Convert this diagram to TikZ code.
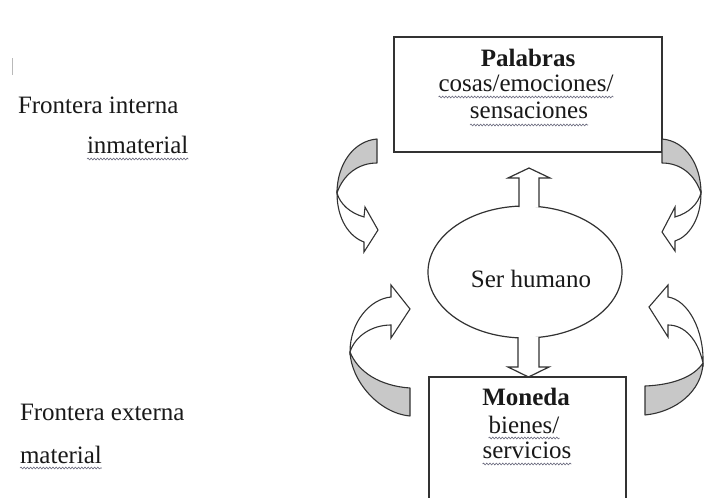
\documentclass[tikz,border=0pt]{standalone}
\usepackage{fontspec}
\setmainfont{Liberation Serif}
\usetikzlibrary{shapes.geometric,decorations.pathmorphing}
\definecolor{ln}{RGB}{50,50,50}
\definecolor{bandgray}{RGB}{200,200,200}
\definecolor{sq}{RGB}{105,105,125}
\definecolor{tx}{RGB}{25,25,25}
\begin{document}
\begin{tikzpicture}[x=1pt,y=-1pt,
  every node/.style={inner sep=0pt,outer sep=0pt},
  txt/.style={font=\fontsize{25}{28}\selectfont,text=tx},
  btxt/.style={font=\fontsize{25}{28}\selectfont\bfseries,text=tx},
  boxline/.style={draw=ln,line width=1.3pt},
  blk/.style={draw=ln,line width=1.2pt,fill=white,line join=miter},
  band/.style={draw=ln,line width=1.1pt,fill=bandgray,line join=round},
  bandw/.style={draw=ln,line width=1.1pt,fill=white,line join=miter},
  squiggle/.style={draw=sq,line width=0.6pt,decorate,decoration={snake,amplitude=0.9pt,segment length=3.2pt}}]
\useasboundingbox (0,0) rectangle (705,498);
\fill[white] (0,0) rectangle (705,498);
\clip (0,0) rectangle (705,498);

% faint cursor mark
\draw[gray!55,line width=0.8pt] (12,58) -- (12,75);

% left texts
\node[txt,anchor=base west] (fi) at (18,113) {Frontera interna};
\node[txt,anchor=base west] (inm) at (87,153) {inmaterial};
\node[txt,anchor=base west] (fe) at (20,420) {Frontera externa};
\node[txt,anchor=base west] (mat) at (20,463) {material};

% Palabras box
\node[boxline,minimum width=268pt,minimum height=115pt,anchor=north west] (pbox) at (394,37) {};
\node[btxt,anchor=base] (p1) at (528,66) {Palabras};
\node[txt,anchor=base] (p2) at (526,91) {cosas/emociones/};
\node[txt,anchor=base] (p3) at (529,118) {sensaciones};

% Moneda box
\node[boxline,minimum width=197pt,minimum height=140pt,anchor=north west] (mbox) at (429,377) {};
\node[btxt,anchor=base] (m1) at (526,405) {Moneda};
\node[txt,anchor=base] (m2) at (524,433) {bienes/};
\node[txt,anchor=base] (m3) at (527,458) {servicios};

% Ser humano
\node[ellipse,draw=ln,line width=1.2pt,minimum width=194pt,minimum height=132pt] (sh) at (525,272) {};
\node[txt,anchor=base] (sht) at (531,287) {Ser humano};

% squiggles
\draw[squiggle] ([yshift=-6pt]inm.base west) -- ([yshift=-6pt]inm.base east);
\draw[squiggle] ([yshift=-5pt]mat.base west) -- ([yshift=-5pt]mat.base east);
\draw[squiggle] ([yshift=-6pt]p2.base west) -- ([yshift=-6pt]p2.base east);
\draw[squiggle] ([yshift=-7pt]p3.base west) -- ([yshift=-7pt]p3.base east);
\draw[squiggle] ([yshift=-5pt]m2.base west) -- ([yshift=-5pt]m2.base east);
\draw[squiggle] ([yshift=-6pt]m3.base west) -- ([yshift=-6pt]m3.base east);

% block arrows
\draw[blk] (519,207) -- (519,178) -- (508,178) -- (529,168) -- (550,178) -- (539,178) -- (539,207);
\draw[blk] (518,337) -- (518,367) -- (508,367) -- (528.5,377) -- (549,367) -- (539,367) -- (539,337);

% top-left curved arrow
\draw[band] (377,139) .. controls (353,141) and (337,165) .. (337,193)
  .. controls (343,175) and (358,163) .. (377,163) -- cycle;
\draw[bandw] (337,193) .. controls (337,220) and (350,237) .. (364,242)
  -- (364,252) -- (378,230) -- (365,207) -- (364,217)
  .. controls (350,213) and (340,204) .. (337,193) -- cycle;

% top-right curved arrow
\draw[band] (662,139) .. controls (686,141) and (701,165) .. (701,193)
  .. controls (695,175) and (681,163) .. (662,163) -- cycle;
\draw[bandw] (701,193) .. controls (701,220) and (688,237) .. (675,241)
  -- (675,251) -- (662,232) -- (675,207) -- (675,217)
  .. controls (689,213) and (698,204) .. (701,193) -- cycle;

% bottom-left curved arrow
\draw[band] (350,352) .. controls (351,380) and (378,413) .. (410,416)
  -- (410,388) .. controls (380,386) and (358,372) .. (350,352) -- cycle;
\draw[bandw] (350,352) .. controls (350,322) and (370,299) .. (391,297)
  -- (391,285) -- (410,309) -- (391,338) -- (391,325)
  .. controls (372,325) and (355,336) .. (350,352) -- cycle;

% bottom-right curved arrow
\draw[band] (703,363) .. controls (702,391) and (676,412) .. (645,415)
  -- (645,386) .. controls (672,385) and (694,377) .. (703,363) -- cycle;
\draw[bandw] (703,363) .. controls (704,330) and (688,300) .. (668,297)
  -- (668,285) -- (649,307) -- (668,337) -- (668,325)
  .. controls (685,325) and (698,340) .. (703,363) -- cycle;
\end{tikzpicture}
\end{document}
